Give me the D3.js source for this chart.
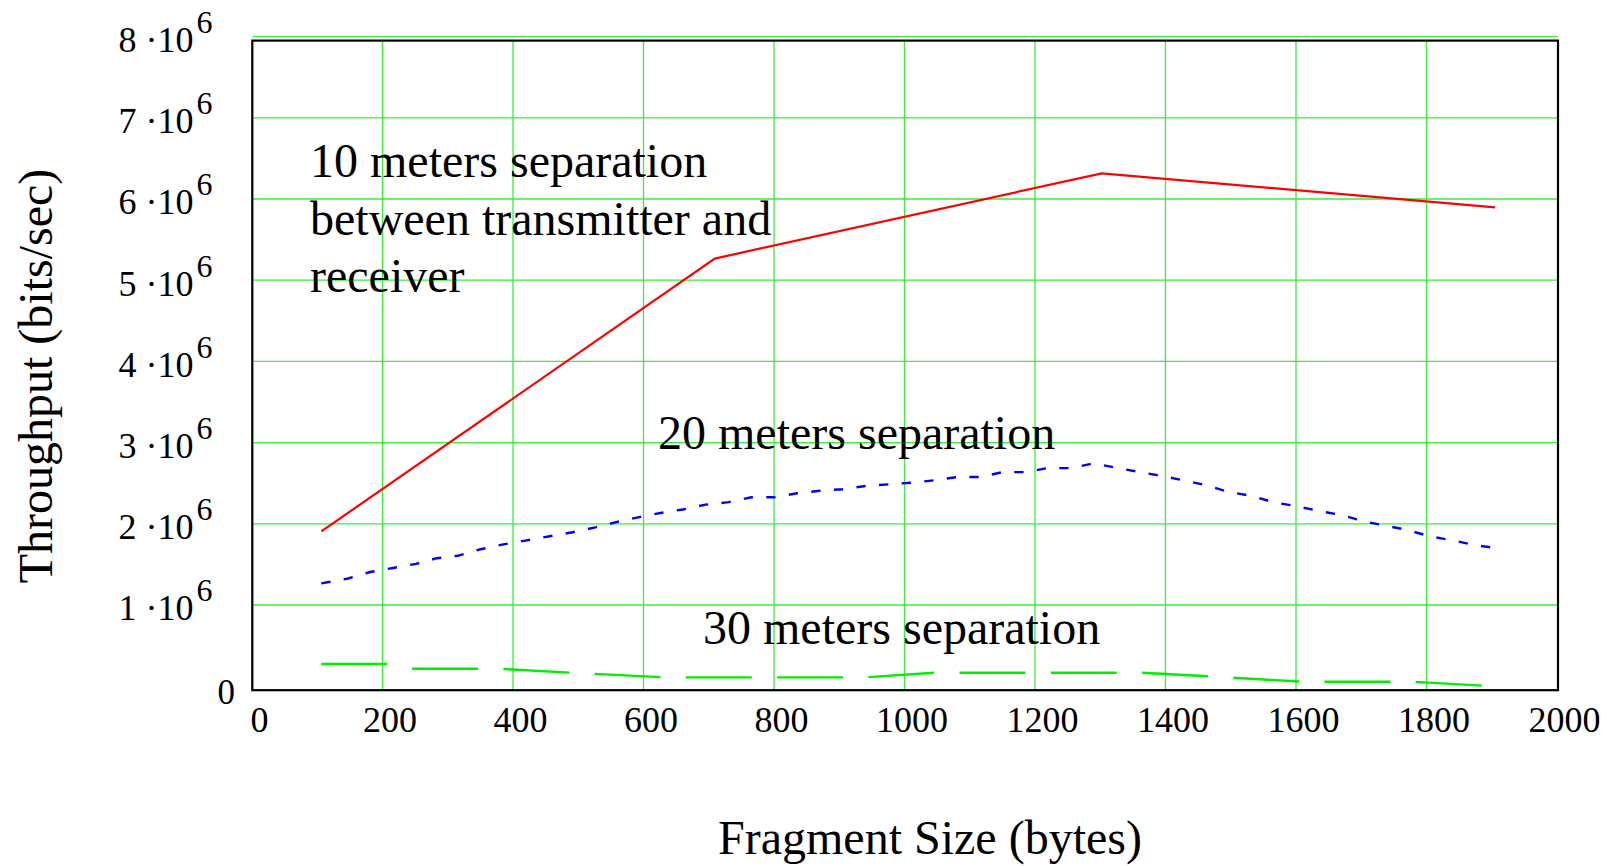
<!DOCTYPE html>
<html>
<head>
<meta charset="utf-8">
<script src="https://cdn.jsdelivr.net/npm/d3@7"></script>
<style>
  body { margin: 0; background: #fff; }
  svg { display: block; }
  text { font-family: "Liberation Serif", "Times New Roman", serif; fill: #000; }
</style>
</head>
<body>
<svg id="chart" width="1615" height="866"></svg>
<script>
// Axis ticks
const fragmentTicks = [0, 200, 400, 600, 800, 1000, 1200, 1400, 1600, 1800, 2000];
const throughputTicks = [0, 1e6, 2e6, 3e6, 4e6, 5e6, 6e6, 7e6, 8e6];

// 10 m separation (solid red)
const sep10Size = [107, 710, 1303, 1906];
const sep10Rate = [1.90e6, 5.26e6, 6.31e6, 5.89e6];

// 20 m separation (short blue dashes)
const sep20Size = [107, 148, 182, 217, 252, 284, 316, 351, 386, 422, 457, 492, 527, 562, 596,
  629, 661, 696, 731, 766, 801, 836, 871, 906, 942, 977, 1011, 1047, 1082, 1117, 1151, 1186,
  1220, 1256, 1291, 1327, 1362, 1397, 1428, 1462, 1496, 1531, 1566, 1602, 1637, 1672, 1706,
  1739, 1770, 1806, 1841, 1875, 1904];
const sep20Rate = [1.26, 1.32, 1.40, 1.45, 1.50, 1.57, 1.60, 1.68, 1.74, 1.79, 1.84, 1.89, 1.95,
  2.02, 2.08, 2.13, 2.17, 2.23, 2.26, 2.32, 2.32, 2.37, 2.40, 2.42, 2.46, 2.48, 2.50, 2.53, 2.57,
  2.57, 2.63, 2.63, 2.68, 2.68, 2.74, 2.68, 2.63, 2.58, 2.53, 2.47, 2.39, 2.34, 2.26, 2.21, 2.15,
  2.10, 2.02, 1.97, 1.92, 1.84, 1.79, 1.73, 1.70].map(v => v * 1e6);

// 30 m separation (long green dashes)
const sep30Size = [107, 210, 243, 380, 500, 635, 940, 1046, 1365, 1480, 1610, 1780, 1888];
const sep30Rate = [0.267, 0.267, 0.209, 0.209, 0.155, 0.103, 0.103, 0.160, 0.160, 0.110, 0.049,
  0.049, 0.0].map(v => v * 1e6);

// Curve captions
const caption10 = ["10 meters separation", "between transmitter and", "receiver"];
const caption20 = "20 meters separation";
const caption30 = "30 meters separation";
const xTitle = "Fragment Size (bytes)";
const yTitle = "Throughput (bits/sec)";

const svg = d3.select("#chart");
svg.append("rect").attr("width", 1615).attr("height", 866).attr("fill", "#fff");

const x = d3.scaleLinear().domain([0, 2000]).range([251.5, 1556.5]);
const y = d3.scaleLinear().domain([0, 8e6]).range([685.7, 36.1]);

// The boxed frame sits a few pixels below the grid
const frameShift = 4.5;
const fLeft = x(0) + 0.8, fRight = x(2000) + 1.5;
const fTop = y(8e6) + frameShift, fBottom = y(0) + frameShift;

const gridColor = "#3aee3a";

// Horizontal grid lines (one per 10^6)
const hGrid = svg.append("g")
  .attr("transform", `translate(${fLeft},0)`)
  .call(d3.axisLeft(y).tickValues(throughputTicks.slice(1))
    .tickSize(-(fRight - fLeft)).tickFormat(""));
hGrid.select(".domain").remove();
hGrid.selectAll(".tick line").attr("stroke", gridColor).attr("stroke-width", 1.3);

// Vertical grid lines (one per 200 bytes)
const vGrid = svg.append("g")
  .attr("transform", `translate(0,${fBottom})`)
  .call(d3.axisBottom(x).tickValues(fragmentTicks.slice(1, -1))
    .tickSize(-(fBottom - fTop)).tickFormat(""));
vGrid.select(".domain").remove();
vGrid.selectAll(".tick line").attr("stroke", gridColor).attr("stroke-width", 1.3);

// Frame
svg.append("rect")
  .attr("x", fLeft).attr("y", fTop)
  .attr("width", fRight - fLeft).attr("height", fBottom - fTop)
  .attr("fill", "none").attr("stroke", "#000").attr("stroke-width", 2.2);

// Series
const line = d3.line().x(d => x(d[0])).y(d => y(d[1]));
const series = [
  { size: sep10Size, rate: sep10Rate, color: "#ff0000", width: 2.2, dash: null },
  { size: sep20Size, rate: sep20Rate, color: "#0000ff", width: 2.4, dash: "9.3 13.4" },
  { size: sep30Size, rate: sep30Rate, color: "#00ee00", width: 2.4, dash: "66 25.3" }
];
series.forEach(s => {
  svg.append("path")
    .datum(d3.zip(s.size, s.rate))
    .attr("d", line)
    .attr("fill", "none")
    .attr("stroke", s.color)
    .attr("stroke-width", s.width)
    .attr("stroke-dasharray", s.dash);
});

// Y tick labels: "n ·10^6"
throughputTicks.forEach(v => {
  if (v === 0) {
    svg.append("text")
      .attr("x", 235).attr("y", y(0) + 18.5)
      .attr("text-anchor", "end").attr("font-size", 35)
      .text("0");
    return;
  }
  const t = svg.append("text")
    .attr("x", 212.5).attr("y", y(v) + 15.8)
    .attr("text-anchor", "end").attr("font-size", 36);
  t.append("tspan").text(`${v / 1e6} ·10`);
  t.append("tspan").attr("font-size", 32).attr("dx", 3).attr("dy", -19).text("6");
});

// X tick labels
svg.append("g").selectAll("text")
  .data(fragmentTicks)
  .join("text")
  .attr("x", d => x(d) + 8)
  .attr("y", 732)
  .attr("text-anchor", "middle")
  .attr("font-size", 36)
  .text(d => d);

// Axis titles
svg.append("text")
  .attr("x", 930).attr("y", 854)
  .attr("text-anchor", "middle").attr("font-size", 48)
  .text(xTitle);
svg.append("text")
  .attr("transform", "translate(51.5,376) rotate(-90)")
  .attr("text-anchor", "middle").attr("font-size", 48)
  .text(yTitle);

// Captions
caption10.forEach((s, i) => {
  svg.append("text")
    .attr("x", 310).attr("y", 177 + i * 57.5)
    .attr("font-size", 48)
    .text(s);
});
svg.append("text").attr("x", 658).attr("y", 449).attr("font-size", 48).text(caption20);
svg.append("text").attr("x", 703).attr("y", 644).attr("font-size", 48).text(caption30);
</script>
</body>
</html>
